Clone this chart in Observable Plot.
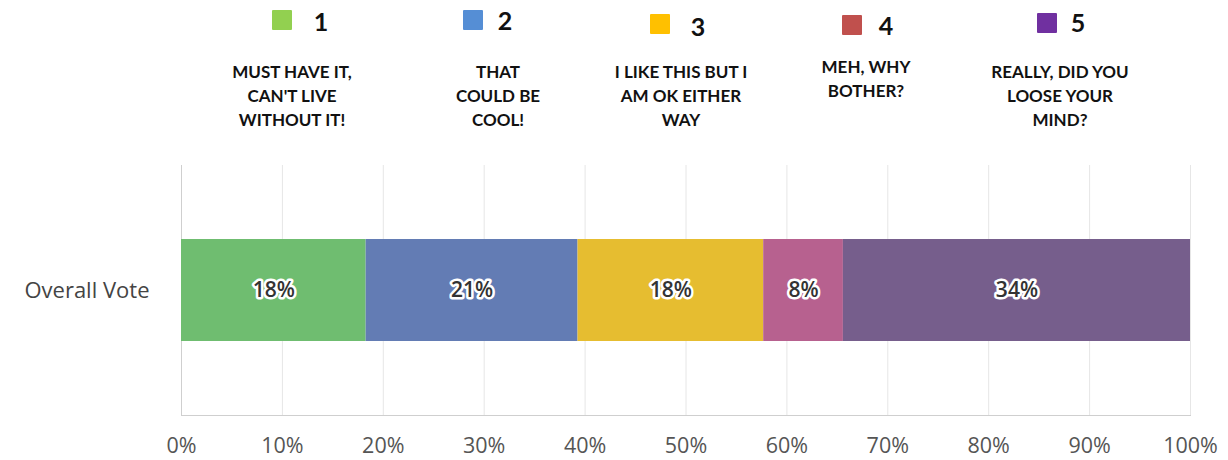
<!DOCTYPE html>
<html>
<head>
<meta charset="utf-8">
<script src="https://cdn.jsdelivr.net/npm/d3@7"></script>
<script src="https://cdn.jsdelivr.net/npm/@observablehq/plot@0.6"></script>
<style>
  html, body { margin: 0; padding: 0; background: #fff; }
  #wrap { position: relative; width: 1228px; height: 460px; overflow: hidden; }
  #legend { position: relative; width: 1228px; height: 160px; font-family: Lato, "Open Sans", sans-serif; }
  .sw { position: absolute; width: 20px; height: 20px; border-radius: 1px; }
  .num { position: absolute; font-weight: 700; font-size: 25px; color: #111; line-height: 1; transform: translate(-50%, -50%); }
  .desc { position: absolute; font-weight: 700; font-size: 17px; line-height: 24px; color: #111; text-align: center; transform: translateX(-50%); white-space: nowrap; }
</style>
</head>
<body>
<div id="wrap">
  <div id="legend"></div>
  <div id="chart"></div>
</div>
<script>
// ---- data ----
const rowLabel = "Overall Vote";
const ratings = ["1", "2", "3", "4", "5"];
const descriptions = [
  ["MUST HAVE IT,", "CAN'T LIVE", "WITHOUT IT!"],
  ["THAT", "COULD BE", "COOL!"],
  ["I LIKE THIS BUT I", "AM OK EITHER", "WAY"],
  ["MEH, WHY", "BOTHER?"],
  ["REALLY, DID YOU", "LOOSE YOUR", "MIND?"]
];
const shares = [18.3, 21.0, 18.4, 7.9, 34.4];
const shareLabels = ["18%", "21%", "18%", "8%", "34%"];
const barColors = ["#6fbd70", "#637cb4", "#e6bd30", "#b7618f", "#765e8c"];
const legendColors = ["#92d050", "#558ed5", "#ffc000", "#c0504d", "#7030a0"];
const xTicks = [0, 10, 20, 30, 40, 50, 60, 70, 80, 90, 100];

// ---- legend layout (positions only) ----
const swatchPos = [[272, 10], [463, 10], [650, 14], [842, 15], [1037, 13]];
const numPos = [[321, 21], [505, 20], [698, 26], [886, 25], [1078, 22]];
const descPos = [[292, 60], [498, 60], [681, 60], [866, 55], [1060, 60]];

const legend = document.getElementById("legend");
ratings.forEach((r, i) => {
  const sw = document.createElement("div");
  sw.className = "sw";
  sw.style.left = swatchPos[i][0] + "px";
  sw.style.top = swatchPos[i][1] + "px";
  sw.style.background = legendColors[i];
  legend.appendChild(sw);
  const n = document.createElement("div");
  n.className = "num";
  n.textContent = r;
  n.style.left = numPos[i][0] + "px";
  n.style.top = numPos[i][1] + "px";
  legend.appendChild(n);
  const d = document.createElement("div");
  d.className = "desc";
  d.innerHTML = descriptions[i].join("<br>");
  d.style.left = descPos[i][0] + "px";
  d.style.top = descPos[i][1] + "px";
  legend.appendChild(d);
});

// ---- chart ----
const table = ratings.map((r, i) => ({row: rowLabel, rating: r, share: shares[i], label: shareLabels[i]}));

const chart = Plot.plot({
  width: 1228,
  height: 300,
  marginLeft: 181,
  marginRight: 38,
  marginTop: 5,
  marginBottom: 45,
  style: {fontFamily: "'Open Sans', sans-serif", background: "#fff"},
  x: {domain: [0, 100], ticks: xTicks, tickFormat: d => d + "%", label: null},
  y: {domain: [rowLabel], padding: 0.42, label: null},
  color: {domain: ratings, range: barColors},
  marks: [
    Plot.gridX(xTicks, {stroke: "#e6e6e6", strokeOpacity: 1}),
    Plot.frame({anchor: "bottom", stroke: "#cfcfcf"}),
    Plot.ruleX([0], {stroke: "#cfcfcf"}),
    Plot.barX(table, Plot.stackX({x: "share", y: "row", fill: "rating", order: null})),
    Plot.text(table, Plot.stackX({
      x: "share", y: "row", z: "rating", text: "label", order: null,
      fill: "#333", stroke: "white", strokeWidth: 5, fontSize: 21, fontWeight: 600
    })),
    Plot.axisX(xTicks, {tickSize: 0, tickPadding: 22, fontSize: 21.5, fill: "#555", tickFormat: d => d + "%", label: null}),
    Plot.axisY({tickSize: 0, tickPadding: 32, fontSize: 22, fill: "#444", label: null})
  ]
});
document.getElementById("chart").appendChild(chart);
</script>
</body>
</html>
